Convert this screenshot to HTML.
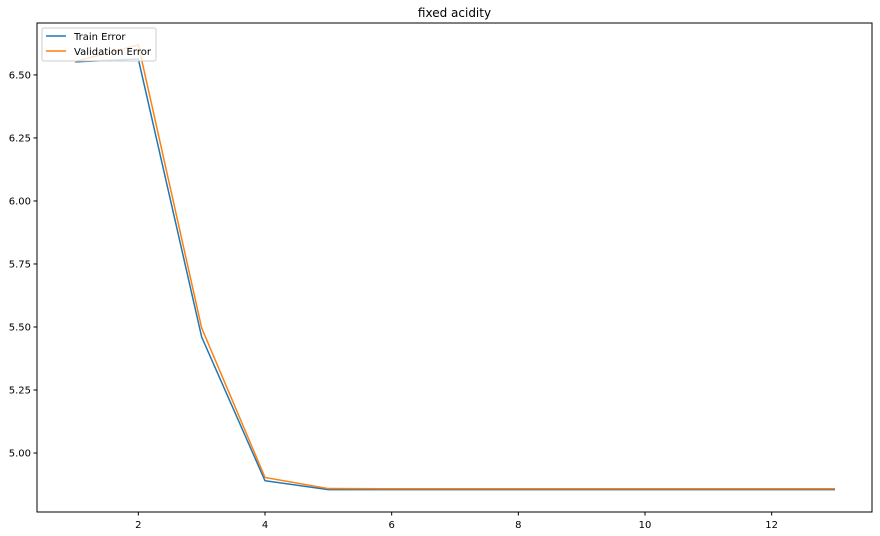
<!DOCTYPE html>
<html><head><meta charset="utf-8"><style>
body{margin:0;background:#fff;}
svg{display:block;font-family:"DejaVu Sans","Liberation Sans",sans-serif;}
</style></head><body>
<svg id="chart" width="880" height="536">
<text x="454.5" y="17" font-size="12" text-anchor="middle" fill="#000">fixed acidity</text>
<g id="grid"></g>
<g id="lines"></g>
<rect x="37" y="23" width="835" height="489" fill="none" stroke="#000" stroke-width="1"/>
<g>
<rect x="42" y="28" width="114" height="33" rx="2" fill="#fff" fill-opacity="0.8" stroke="#ccc"/>
<line x1="46" y1="36" x2="66" y2="36" stroke="#1f77b4" stroke-width="1.5"/>
<text x="74" y="40" font-size="10" fill="#000">Train Error</text>
<line x1="46" y1="51" x2="66" y2="51" stroke="#ff7f0e" stroke-width="1.5"/>
<text x="74" y="55" font-size="10" fill="#000">Validation Error</text>
</g>
</svg>
<script>
const depths=[1,2,3,4,5,6,7,8,9,10,11,12,13];
const trainErr=[6.552,6.563,5.46,4.89,4.855,4.855,4.855,4.855,4.855,4.855,4.855,4.855,4.855];
const valErr=[6.553,6.619,5.496,4.903,4.859,4.858,4.858,4.858,4.858,4.858,4.858,4.858,4.858];
const xTicks=[2,4,6,8,10,12];
const yTicks=[5.00,5.25,5.50,5.75,6.00,6.25,6.50];
const X0=37,X1=873,Y0=512,Y1=23,XMIN=0.4,XMAX=13.6,YMIN=4.766,YMAX=6.706;
const sx=v=>X0+(v-XMIN)/(XMAX-XMIN)*(X1-X0);
const sy=v=>Y0-(v-YMIN)/(YMAX-YMIN)*(Y0-Y1);
const NS="http://www.w3.org/2000/svg";
const g=document.getElementById('grid'),L=document.getElementById('lines');
xTicks.forEach(t=>{
const l=document.createElementNS(NS,'line');l.setAttribute('x1',sx(t));l.setAttribute('x2',sx(t));l.setAttribute('y1',Y0);l.setAttribute('y2',Y0+3.5);l.setAttribute('stroke','#000');


g.appendChild(l);
const tx=document.createElementNS(NS,'text');tx.setAttribute('x',sx(t));tx.setAttribute('y',Y0+16);tx.setAttribute('font-size','10');tx.setAttribute('text-anchor','middle');tx.textContent=t;


g.appendChild(tx);});
yTicks.forEach(t=>{
const l=document.createElementNS(NS,'line');l.setAttribute('x1',X0-3.5);l.setAttribute('x2',X0);l.setAttribute('y1',sy(t));l.setAttribute('y2',sy(t));l.setAttribute('stroke','#000');


g.appendChild(l);
const tx=document.createElementNS(NS,'text');tx.setAttribute('x',X0-6);tx.setAttribute('y',sy(t)+3.5);tx.setAttribute('font-size','10');tx.setAttribute('text-anchor','end');tx.textContent=t.toFixed(2);


g.appendChild(tx);});
function line(vals,color,name){
const p=document.createElementNS(NS,'polyline');
p.setAttribute('points',depths.map((d,i)=>sx(d)+','+sy(vals[i])).join(' '));
p.setAttribute('fill','none');p.setAttribute('stroke',color);p.setAttribute('stroke-width','1.5');


L.appendChild(p);}
line(trainErr,'#1f77b4','train-error-line');
line(valErr,'#ff7f0e','validation-error-line');
</script>
</body></html>
